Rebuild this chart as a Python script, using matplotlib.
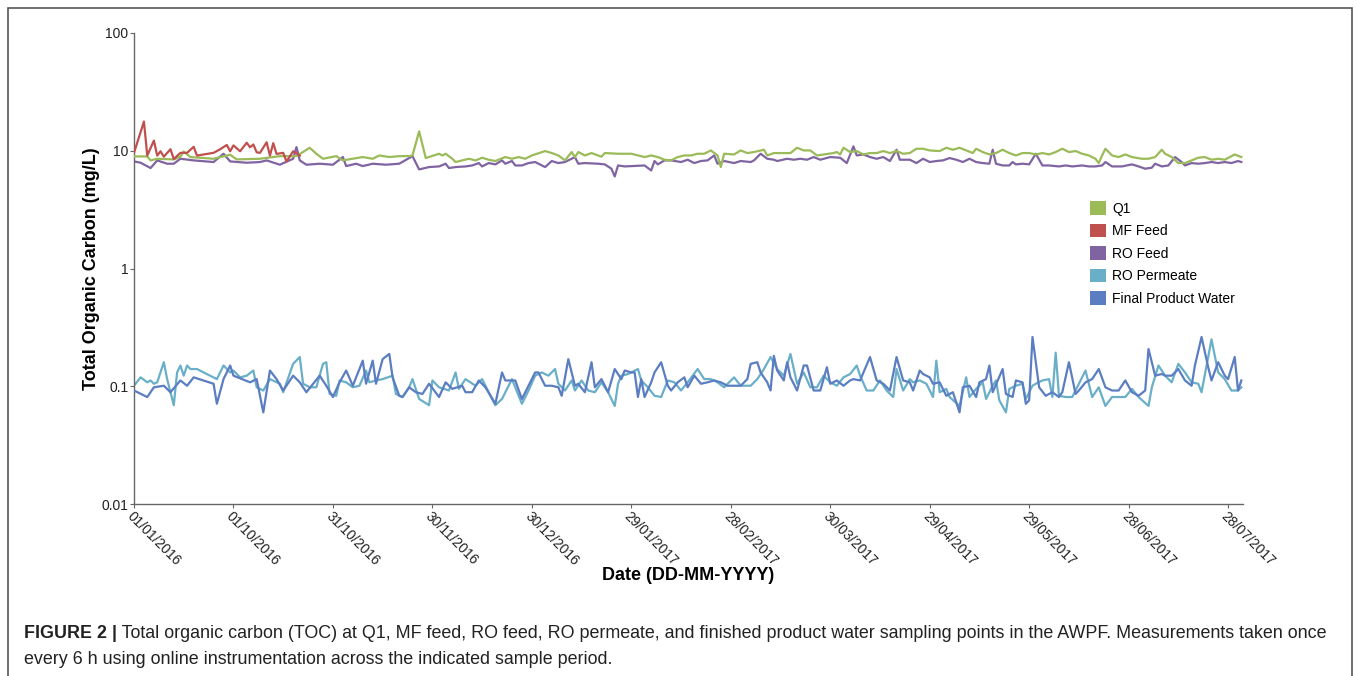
import matplotlib
matplotlib.use("Agg")
import matplotlib.pyplot as plt
from matplotlib.patches import Patch, Rectangle
from matplotlib.ticker import FixedLocator, FixedFormatter, NullLocator

plt.rcParams['font.family'] = ['Liberation Sans', 'DejaVu Sans']

# ---------------- data (days since first tick, TOC mg/L) ----------------
tick_days = [0, 30, 60, 90, 120, 150, 180, 210, 240, 270, 300, 330]
tick_labels = ["01/01/2016", "01/10/2016", "31/10/2016", "30/11/2016", "30/12/2016",
               "29/01/2017", "28/02/2017", "30/03/2017", "29/04/2017", "29/05/2017",
               "28/06/2017", "28/07/2017"]
y_ticks = [0.01, 0.1, 1, 10, 100]
y_tick_labels = ["0.01", "0.1", "1", "10", "100"]

q1_days = [0, 4, 5, 7, 12, 14, 15, 17, 24, 29, 31, 38, 44, 49, 53, 55, 57, 61, 63, 66, 69, 72, 74, 77,
           80, 83, 84, 86, 88, 92, 93, 94, 96, 97, 99, 101, 103, 105, 107, 109, 112, 114, 116, 118,
           120, 124, 126, 128, 130, 132, 133, 134, 136, 138, 141, 142, 146, 150, 154, 156, 158, 160,
           162, 164, 166, 168, 170, 172, 174, 176, 177, 178, 181, 183, 185, 187, 190, 191, 193, 196,
           198, 200, 202, 204, 206, 208, 211, 212, 213, 214, 216, 218, 220, 222, 224, 226, 228, 230,
           232, 234, 236, 238, 240, 243, 245, 247, 249, 251, 253, 254, 256, 258, 260, 262, 264, 266,
           268, 270, 272, 274, 276, 278, 280, 282, 284, 286, 288, 290, 291, 292, 293, 295, 297, 299,
           301, 304, 306, 308, 310, 311, 313, 315, 317, 319, 321, 323, 325, 327, 329, 332, 334]
q1_vals = [8.95, 8.95, 8.28, 8.55, 8.44, 8.9, 9.86, 8.84, 8.55, 9.25, 8.44, 8.55, 9.0, 9.0, 10.6, 9.43,
           8.55, 9.0, 8.28, 8.55, 8.84, 8.55, 9.12, 8.84, 9.0, 9.0, 9.12, 14.6, 8.67, 9.43, 9.12, 9.43,
           8.55, 8.02, 8.28, 8.55, 8.28, 8.72, 8.39, 8.18, 8.84, 8.55, 8.84, 8.55, 9.12, 9.94, 9.56,
           9.12, 8.28, 9.75, 8.84, 9.75, 9.12, 9.56, 8.9, 9.56, 9.43, 9.43, 8.84, 9.12, 8.84, 8.39,
           8.28, 8.84, 9.12, 9.12, 9.43, 9.43, 10.06, 9.12, 7.27, 9.43, 9.30, 10.06, 9.56, 9.75, 10.2,
           9.12, 9.56, 9.56, 9.56, 10.6, 10.06, 10.06, 9.12, 9.30, 9.56, 9.75, 9.30, 10.6, 9.75, 9.94,
           9.30, 9.56, 9.56, 9.94, 9.56, 9.94, 9.43, 9.56, 10.4, 10.4, 10.06, 9.94, 10.6, 10.2, 10.6,
           10.06, 9.56, 10.4, 9.75, 9.30, 9.56, 10.2, 9.56, 9.12, 9.56, 9.56, 9.30, 9.56, 9.30, 9.75,
           10.4, 9.75, 9.94, 9.43, 9.12, 8.55, 7.86, 9.12, 10.4, 9.12, 8.84, 9.30, 8.84, 8.55, 8.55,
           8.84, 10.2, 9.43, 8.84, 7.86, 7.86, 8.28, 8.72, 8.84, 8.39, 8.55, 8.39, 9.30, 8.84]

mf_days = [0, 3, 4, 6, 7, 8, 9, 11, 12, 14, 16, 18, 19, 24, 26, 28, 29, 30, 32, 34, 35, 36, 37, 38,
           40, 41, 42, 43, 45, 46, 48, 50]
mf_vals = [9.6, 17.7, 9.1, 12.2, 9.1, 9.9, 8.9, 10.3, 8.5, 9.6, 9.6, 10.8, 9.1, 9.6, 10.3, 11.2, 9.9,
           11.1, 9.9, 11.7, 10.7, 11.3, 9.7, 9.6, 11.8, 9.1, 11.6, 9.4, 9.6, 8.1, 9.9, 9.1]

rof_days = [0, 2, 5, 7, 10, 12, 14, 18, 24, 27, 29, 34, 38, 40, 44, 48, 49, 50, 52, 56, 60, 63, 64,
            67, 69, 72, 76, 80, 84, 86, 89, 92, 94, 95, 97, 100, 102, 104, 105, 107, 109, 111, 112,
            114, 115, 117, 119, 121, 124, 126, 128, 130, 133, 134, 136, 140, 142, 144, 145, 146, 148,
            154, 156, 157, 158, 160, 162, 165, 167, 169, 171, 173, 175, 176, 178, 181, 183, 186, 187,
            189, 191, 193, 194, 197, 199, 201, 203, 205, 207, 210, 213, 215, 217, 218, 220, 222, 224,
            226, 228, 230, 231, 234, 236, 238, 240, 242, 244, 246, 248, 250, 252, 254, 256, 258, 259,
            260, 262, 264, 265, 266, 268, 270, 272, 274, 276, 279, 281, 283, 286, 288, 290, 292, 293,
            295, 298, 301, 303, 305, 307, 308, 310, 312, 314, 316, 317, 319, 321, 323, 325, 327, 329,
            331, 333, 334]
rof_vals = [8.12, 7.91, 7.13, 8.28, 7.76, 7.76, 8.55, 8.28, 8.02, 9.43, 8.12, 7.91, 8.02, 8.28, 7.61,
            8.55, 10.75, 8.28, 7.61, 7.76, 7.61, 8.84, 7.41, 7.76, 7.41, 7.76, 7.61, 7.76, 9.0, 6.94,
            7.27, 7.36, 7.76, 7.13, 7.27, 7.36, 7.50, 7.86, 7.36, 7.86, 7.66, 8.28, 7.76, 8.18, 7.50,
            7.50, 7.86, 8.02, 7.27, 8.18, 7.86, 8.02, 8.84, 7.76, 7.86, 7.76, 7.66, 7.04, 6.05, 7.50,
            7.36, 7.50, 6.8, 8.18, 7.66, 8.28, 8.28, 8.02, 8.39, 7.86, 8.18, 8.28, 9.12, 7.76, 8.18,
            7.86, 8.18, 8.02, 8.28, 9.43, 8.55, 8.39, 8.18, 8.55, 8.39, 8.55, 8.39, 8.84, 8.39, 8.84,
            8.72, 7.86, 10.9, 9.12, 9.30, 8.84, 8.55, 8.84, 8.18, 10.2, 8.39, 8.39, 7.86, 8.55, 8.02,
            8.18, 8.28, 8.67, 8.39, 8.02, 8.55, 8.02, 7.86, 7.76, 10.2, 7.76, 7.50, 7.50, 8.02, 7.66,
            7.76, 7.66, 9.43, 7.50, 7.50, 7.36, 7.50, 7.36, 7.50, 7.36, 7.36, 7.50, 8.02, 7.36, 7.36,
            7.66, 7.36, 7.04, 7.18, 7.76, 7.36, 7.50, 8.84, 8.02, 7.50, 7.86, 7.76, 7.86, 8.02, 7.86,
            8.02, 7.86, 8.18, 8.02]

rop_days = [0, 2, 4, 5, 6, 7, 9, 10, 12, 13, 14, 15, 16, 17, 19, 21, 25, 27, 29, 30, 32, 34, 36, 37,
            39, 41, 44, 45, 48, 50, 51, 53, 55, 57, 58, 59, 61, 62, 64, 66, 68, 70, 71, 73, 75, 78,
            79, 81, 83, 84, 86, 89, 90, 92, 95, 97, 98, 100, 103, 105, 108, 109, 111, 114, 117, 119,
            121, 123, 125, 127, 128, 130, 132, 133, 135, 137, 139, 141, 143, 145, 146, 147, 149, 152,
            153, 155, 157, 159, 161, 163, 165, 167, 170, 172, 174, 176, 178, 181, 183, 186, 188, 190,
            192, 194, 196, 198, 200, 202, 204, 206, 208, 210, 212, 214, 216, 218, 219, 221, 223, 225,
            227, 229, 230, 232, 234, 235, 237, 239, 241, 242, 243, 245, 246, 249, 251, 252, 254, 256,
            257, 259, 260, 261, 263, 264, 266, 268, 269, 271, 272, 274, 276, 277, 278, 279, 281, 283,
            285, 287, 289, 291, 293, 295, 297, 299, 301, 303, 306, 307, 309, 311, 313, 315, 317, 319,
            321, 322, 325, 327, 329, 331, 333, 334]
rop_vals = [0.101, 0.119, 0.108, 0.112, 0.105, 0.108, 0.160, 0.115, 0.069, 0.131, 0.150, 0.123, 0.150,
            0.140, 0.140, 0.131, 0.115, 0.150, 0.131, 0.136, 0.119, 0.123, 0.136, 0.098, 0.092, 0.115,
            0.105, 0.089, 0.155, 0.177, 0.105, 0.098, 0.098, 0.155, 0.160, 0.086, 0.083, 0.112, 0.108,
            0.098, 0.101, 0.136, 0.108, 0.112, 0.115, 0.123, 0.086, 0.081, 0.098, 0.115, 0.078, 0.069,
            0.112, 0.098, 0.092, 0.131, 0.095, 0.115, 0.101, 0.115, 0.078, 0.069, 0.078, 0.115, 0.071,
            0.092, 0.123, 0.131, 0.123, 0.140, 0.105, 0.092, 0.112, 0.092, 0.112, 0.092, 0.089, 0.108,
            0.089, 0.068, 0.105, 0.123, 0.127, 0.140, 0.112, 0.098, 0.083, 0.081, 0.112, 0.108, 0.092,
            0.108, 0.140, 0.115, 0.115, 0.108, 0.098, 0.119, 0.101, 0.101, 0.115, 0.140, 0.177, 0.140,
            0.123, 0.188, 0.105, 0.131, 0.098, 0.098, 0.123, 0.108, 0.101, 0.119, 0.127, 0.150, 0.123,
            0.092, 0.092, 0.112, 0.092, 0.081, 0.140, 0.092, 0.115, 0.108, 0.112, 0.105, 0.081, 0.165,
            0.089, 0.095, 0.081, 0.068, 0.119, 0.081, 0.095, 0.108, 0.078, 0.101, 0.112, 0.076, 0.060,
            0.095, 0.101, 0.105, 0.078, 0.101, 0.105, 0.112, 0.115, 0.081, 0.193, 0.083, 0.081, 0.081,
            0.105, 0.136, 0.081, 0.098, 0.068, 0.081, 0.081, 0.081, 0.095, 0.081, 0.068, 0.098, 0.150,
            0.123, 0.108, 0.155, 0.131, 0.108, 0.105, 0.089, 0.250, 0.131, 0.115, 0.092, 0.092, 0.098]

fpw_days = [0, 4, 6, 9, 11, 14, 16, 18, 24, 25, 27, 29, 30, 35, 37, 39, 41, 43, 45, 48, 50, 52, 56,
            58, 60, 62, 64, 66, 69, 70, 72, 73, 75, 77, 78, 80, 81, 83, 85, 87, 89, 92, 94, 96, 99,
            100, 102, 104, 106, 109, 111, 112, 115, 117, 121, 122, 124, 126, 128, 129, 131, 133, 134,
            136, 138, 139, 141, 143, 145, 147, 148, 150, 151, 152, 153, 154, 156, 157, 159, 161, 162,
            164, 166, 167, 169, 171, 173, 175, 177, 179, 183, 185, 186, 188, 189, 191, 192, 193, 194,
            196, 197, 198, 200, 202, 203, 205, 207, 209, 210, 212, 214, 216, 217, 219, 222, 224, 226,
            228, 230, 232, 234, 235, 237, 238, 240, 241, 243, 245, 247, 249, 250, 252, 254, 255, 257,
            258, 259, 262, 263, 265, 266, 268, 269, 270, 271, 273, 275, 277, 279, 280, 282, 284, 285,
            287, 289, 291, 293, 295, 297, 299, 301, 303, 305, 306, 308, 310, 311, 313, 315, 317, 319,
            320, 322, 324, 325, 327, 329, 330, 332, 333, 334]
fpw_vals = [0.092, 0.081, 0.098, 0.101, 0.089, 0.112, 0.101, 0.119, 0.105, 0.071, 0.115, 0.150, 0.123,
            0.108, 0.115, 0.060, 0.136, 0.115, 0.092, 0.123, 0.108, 0.089, 0.123, 0.101, 0.081, 0.108,
            0.136, 0.101, 0.165, 0.105, 0.165, 0.105, 0.170, 0.188, 0.119, 0.083, 0.081, 0.098, 0.089,
            0.086, 0.105, 0.081, 0.108, 0.095, 0.101, 0.089, 0.089, 0.112, 0.098, 0.071, 0.131, 0.112,
            0.112, 0.078, 0.131, 0.131, 0.101, 0.101, 0.098, 0.083, 0.170, 0.101, 0.105, 0.089, 0.160,
            0.098, 0.115, 0.089, 0.140, 0.115, 0.136, 0.131, 0.131, 0.081, 0.115, 0.081, 0.108, 0.131,
            0.160, 0.101, 0.092, 0.108, 0.119, 0.098, 0.123, 0.105, 0.108, 0.112, 0.108, 0.101, 0.101,
            0.115, 0.155, 0.160, 0.131, 0.108, 0.092, 0.181, 0.136, 0.112, 0.160, 0.119, 0.092, 0.150,
            0.150, 0.092, 0.092, 0.145, 0.105, 0.112, 0.101, 0.112, 0.115, 0.112, 0.177, 0.112, 0.105,
            0.092, 0.177, 0.112, 0.108, 0.092, 0.136, 0.127, 0.119, 0.105, 0.108, 0.083, 0.089, 0.060,
            0.098, 0.101, 0.081, 0.108, 0.115, 0.150, 0.089, 0.140, 0.086, 0.081, 0.112, 0.108, 0.071,
            0.076, 0.262, 0.098, 0.083, 0.089, 0.081, 0.089, 0.160, 0.086, 0.092, 0.108, 0.115, 0.140,
            0.098, 0.092, 0.092, 0.112, 0.089, 0.083, 0.092, 0.207, 0.123, 0.127, 0.123, 0.123, 0.140,
            0.112, 0.101, 0.150, 0.262, 0.145, 0.112, 0.160, 0.123, 0.115, 0.177, 0.092, 0.112]

series_names = ["Q1", "MF Feed", "RO Feed", "RO Permeate", "Final Product Water"]
colors = {"Q1": "#9BBB59", "MF Feed": "#C0504D", "RO Feed": "#8064A2",
          "RO Permeate": "#6AAFC8", "Final Product Water": "#5B7DC2"}

# ---------------- figure ----------------
W, H = 1357, 676
fig = plt.figure(figsize=(W / 100, H / 100), dpi=100)

# outer frame
fig.patches.append(Rectangle((8 / W, -0.05), (1352 - 8) / W, 1.05 - 8 / H,
                             transform=fig.transFigure, fill=False,
                             edgecolor="#555555", linewidth=1.2))

ax = fig.add_axes([134 / W, 1 - 504 / H, (1243 - 134) / W, (504 - 33) / H])
ax.set_yscale("log")
ax.set_ylim(0.01, 100)
ax.set_xlim(0, 334.5)

lw = 1.6
ax.plot(q1_days, q1_vals, color=colors["Q1"], lw=lw, zorder=3)
ax.plot(rof_days, rof_vals, color=colors["RO Feed"], lw=lw, zorder=2)
ax.plot(mf_days, mf_vals, color=colors["MF Feed"], lw=lw, zorder=4)
ax.plot(rop_days, rop_vals, color=colors["RO Permeate"], lw=lw, zorder=2)
ax.plot(fpw_days, fpw_vals, color=colors["Final Product Water"], lw=lw, zorder=3)

for s in ["top", "right"]:
    ax.spines[s].set_visible(False)
for s in ["left", "bottom"]:
    ax.spines[s].set_color("#666666")
    ax.spines[s].set_linewidth(1.0)

ax.yaxis.set_major_locator(FixedLocator(y_ticks))
ax.yaxis.set_major_formatter(FixedFormatter(y_tick_labels))
ax.yaxis.set_minor_locator(NullLocator())
ax.xaxis.set_major_locator(FixedLocator(tick_days))
ax.xaxis.set_major_formatter(FixedFormatter(tick_labels))
ax.tick_params(axis="both", which="major", length=3, width=0.8, color="#666666",
               labelsize=10, labelcolor="#222222", pad=1)
for lab in ax.get_xticklabels():
    lab.set_rotation(-45)
    lab.set_ha("left")
    lab.set_va("top")
    lab.set_rotation_mode("anchor")

ax.set_ylabel("Total Organic Carbon (mg/L)", fontsize=13, fontweight="bold")
ax.yaxis.set_label_coords(-42 / 1109, 0.5)
ax.set_xlabel("Date (DD-MM-YYYY)", fontsize=13, fontweight="bold")
ax.xaxis.set_label_coords(0.5, -72 / 471)
ax.xaxis.label.set_va("center")
ax.yaxis.label.set_va("center")

handles = [Patch(facecolor=colors[n], edgecolor="none") for n in series_names]
fig.legend(handles, series_names, loc="upper left", bbox_to_anchor=(1090 / W, 1 - 201 / H),
           frameon=False, fontsize=10, handlelength=1.15, handleheight=1.15,
           handletextpad=0.45, labelspacing=0.57, borderpad=0, borderaxespad=0)

# caption
cap_bold = "FIGURE 2 |"
cap_rest1 = " Total organic carbon (TOC) at Q1, MF feed, RO feed, RO permeate, and finished product water sampling points in the AWPF. Measurements taken once"
cap_rest2 = "every 6 h using online instrumentation across the indicated sample period."
cap_size = 12.9
t1 = fig.text(24 / W, 1 - 634 / H, cap_bold, fontsize=cap_size, fontweight="bold",
              va="center", ha="left", color="#222222")
fig.canvas.draw()
bb = t1.get_window_extent(fig.canvas.get_renderer())
fig.text(bb.x1 / W, 1 - 634 / H, cap_rest1, fontsize=cap_size, va="center", ha="left",
         color="#222222")
fig.text(24 / W, 1 - 660 / H, cap_rest2, fontsize=cap_size, va="center", ha="left",
         color="#222222")

fig.savefig("out.png", dpi=100)
